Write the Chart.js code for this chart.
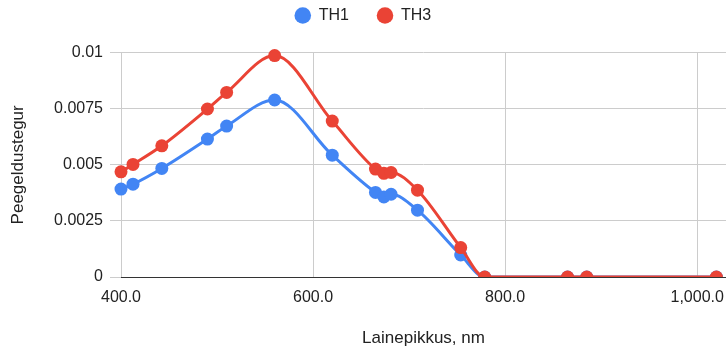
<!DOCTYPE html>
<html><head><meta charset="utf-8">
<script src="https://cdn.jsdelivr.net/npm/chart.js@4/dist/chart.umd.min.js"></script>
<style>html,body{margin:0;padding:0;background:#fff;overflow:hidden}</style>
</head><body>
<canvas id="c" width="726" height="347"></canvas>
<script>
const wavelengths = [400, 412.5, 442.5, 490, 510, 560, 620, 665, 673.75, 681.25, 708.75, 753.75, 778.75, 865, 885, 1020];
const th1 = [0.00392, 0.00414, 0.00484, 0.00615, 0.00673, 0.00789, 0.00543, 0.00377, 0.00357, 0.00369, 0.00298, 0.00098, 0, 0, 0, 0];
const th3 = [0.00469, 0.00502, 0.00585, 0.00749, 0.00823, 0.00987, 0.00695, 0.00481, 0.00462, 0.00466, 0.00387, 0.00131, 0, 0, 0, 0];
const seriesNames = ['TH1', 'TH3'];
const xTickValues = [400, 600, 800, 1000];
const xTickLabels = ['400.0', '600.0', '800.0', '1,000.0'];
const yTickValues = [0, 0.0025, 0.005, 0.0075, 0.01];
const yTickLabels = ['0', '0.0025', '0.005', '0.0075', '0.01'];
const xTitle = 'Lainepikkus, nm';
const yTitle = 'Peegeldustegur';

const FONT = "'Liberation Sans', Arial, sans-serif";
const BLUE = '#4285F4', RED = '#EA4335';

function pts(vals) { return wavelengths.map((w, i) => ({x: w, y: vals[i]})); }
function ds(label, vals, color, order) {
  return {
    label, data: pts(vals), order,
    borderColor: color, backgroundColor: color,
    pointBackgroundColor: color, pointBorderWidth: 0,
    pointRadius: 6.5, pointHoverRadius: 6.5,
    borderWidth: 3, cubicInterpolationMode: 'monotone',
    clip: {left: false, top: false, right: false, bottom: 0}
  };
}

new Chart(document.getElementById('c'), {
  type: 'line',
  data: { datasets: [ds(seriesNames[0], th1, BLUE, 1), ds(seriesNames[1], th3, RED, 0)] },
  options: {
    responsive: false, animation: false,
    layout: { autoPadding: false, padding: { top: -20.5, left: 0, right: 0, bottom: 0 } },
    plugins: {
      tooltip: { enabled: false },
      legend: {
        position: 'top',
        labels: {
          usePointStyle: true, pointStyle: 'circle', boxWidth: 16, boxHeight: 11.7,
          padding: 28, color: '#222', font: { family: FONT, size: 16 },
          sort: (a, b) => a.datasetIndex - b.datasetIndex
        }
      },
      title: { display: true, text: '', position: 'top', weight: 500, padding: 0, font: { family: FONT, size: 16 } }
    },
    scales: {
      x: {
        type: 'linear', min: 400, max: 1030,
        afterBuildTicks: s => { s.ticks = xTickValues.map(v => ({value: v})); },
        afterFit: s => { s.height = 70; s.paddingLeft = 0; s.paddingRight = 0; },
        ticks: { padding: 11, color: '#222', font: { family: FONT, size: 16 }, maxRotation: 0, autoSkip: false,
          callback: v => xTickLabels[xTickValues.indexOf(v)] },
        grid: { color: '#cccccc', lineWidth: 1, drawTicks: false },
        border: { display: true, color: '#333333', width: 1 },
        title: { display: true, text: xTitle, color: '#222', font: { family: FONT, size: 17 }, padding: { top: 0, bottom: -2 } }
      },
      y: {
        type: 'linear', min: 0, max: 0.01,
        afterBuildTicks: s => { s.ticks = yTickValues.map(v => ({value: v})); },
        afterFit: s => { s.width = 121; },
        ticks: { padding: 7, color: '#222', font: { family: FONT, size: 16 },
          callback: v => yTickLabels[yTickValues.indexOf(v)] },
        grid: { color: '#cccccc', lineWidth: 1, drawTicks: true, tickLength: 11, tickColor: '#cccccc' },
        border: { display: false },
        title: { display: true, text: yTitle, color: '#222', font: { family: FONT, size: 17 }, padding: { top: 8, bottom: 0 } }
      }
    }
  }
});
</script>
</body></html>
